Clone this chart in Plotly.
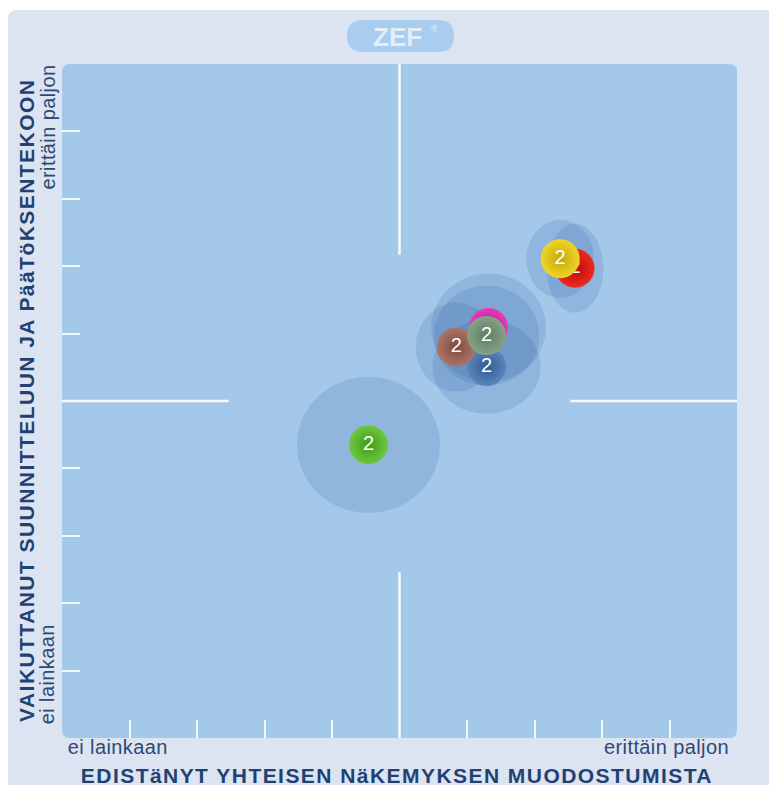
import plotly.graph_objects as go

# ---------------- data ----------------
names   = ["red", "yellow", "magenta", "blue", "brown", "gray", "green"]
x_vals  = [7.60, 7.38, 6.32, 6.29, 5.84, 6.29, 4.54]
y_vals  = [6.97, 7.11, 6.09, 5.51, 5.80, 5.97, 4.35]
sd_x    = [0.42, 0.50, 0.85, 0.80, 0.60, 0.78, 1.06]
sd_y    = [0.66, 0.58, 0.80, 0.70, 0.66, 0.74, 1.01]
counts  = ["2", "2", "2", "2", "2", "2", "2"]
colors  = ["#f02a1c", "#eed52a", "#e83cbc", "#5a86bc", "#ab7466", "#86a286", "#6ec83c"]
edges   = ["#b80a06", "#c4a808", "#b01488", "#2f5a92", "#7e4a3e", "#5c7c5e", "#3f9a1c"]

tick_vals = [1, 2, 3, 4, 6, 7, 8, 9]
x_title = "EDISTäNYT YHTEISEN NäKEMYKSEN MUODOSTUMISTA"
y_title = "VAIKUTTANUT SUUNNITTELUUN JA PääTöKSENTEKOON"
low_label = "ei lainkaan"
high_label = "erittäin paljon"

# ---------------- geometry (page px; figure sits at 8,8 due to body margin) ----------------
OX, OY = 8, 8
W, H = 777 - OX, 785 - OY
L, R, T, B = 62, 737, 64, 738          # plot area in page px
PW, PH = R - L, B - T


def px(xp):
    return (xp - L) / PW


def py(yp):
    return (B - yp) / PH


def rounded_path(x0, y0, x1, y1, r, corners=(True, True, True, True)):
    tl, tr, br, bl = corners
    rx, ry = r / PW, r / PH
    X0, X1 = px(x0), px(x1)
    Y0, Y1 = py(y0), py(y1)
    p = [f"M {X0 + (rx if tl else 0)},{Y0}", f"L {X1 - (rx if tr else 0)},{Y0}"]
    if tr:
        p.append(f"Q {X1},{Y0} {X1},{Y0 - ry}")
    p.append(f"L {X1},{Y1 + (ry if br else 0)}")
    if br:
        p.append(f"Q {X1},{Y1} {X1 - rx},{Y1}")
    p.append(f"L {X0 + (rx if bl else 0)},{Y1}")
    if bl:
        p.append(f"Q {X0},{Y1} {X0},{Y1 + ry}")
    p.append(f"L {X0},{Y0 - (ry if tl else 0)}")
    if tl:
        p.append(f"Q {X0},{Y0} {X0 + rx},{Y0}")
    p.append("Z")
    return " ".join(p)


fig = go.Figure()

shapes = []
shapes.append(dict(type="path", xref="paper", yref="paper",
                   path=rounded_path(8, 10, 776, 800, 9, (True, True, False, False)),
                   fillcolor="#dce3f1", line=dict(width=0), layer="below"))
shapes.append(dict(type="path", xref="paper", yref="paper",
                   path=rounded_path(L, T, R, B, 8),
                   fillcolor="#a4c8e9", line=dict(width=0), layer="below"))
shapes.append(dict(type="path", xref="paper", yref="paper",
                   path=rounded_path(347, 20, 454, 52, 16),
                   fillcolor="#a9cdee", line=dict(width=0), layer="below"))

cx, cy = 5, 5
line_style = dict(color="rgba(255,255,255,0.9)", width=2.5)
shapes += [
    dict(type="line", xref="x", yref="y", x0=cx, x1=cx, y0=10, y1=7.17, line=line_style, layer="below"),
    dict(type="line", xref="x", yref="y", x0=cx, x1=cx, y0=2.46, y1=0, line=line_style, layer="below"),
    dict(type="line", xref="x", yref="y", x0=0, x1=2.47, y0=cy, y1=cy, line=line_style, layer="below"),
    dict(type="line", xref="x", yref="y", x0=7.53, x1=10, y0=cy, y1=cy, line=line_style, layer="below"),
]

for xv, yv, sx, sy in zip(x_vals, y_vals, sd_x, sd_y):
    shapes.append(dict(type="circle", xref="x", yref="y",
                       x0=xv - sx, x1=xv + sx, y0=yv - sy, y1=yv + sy,
                       fillcolor="rgba(45,95,165,0.17)", line=dict(width=0),
                       layer="below"))

for n, xv, yv, c, e, t in zip(names, x_vals, y_vals, colors, edges, counts):
    fig.add_trace(go.Scatter(
        x=[xv], y=[yv], mode="markers+text", name=n,
        text=[t], textposition="middle center",
        textfont=dict(family="Liberation Sans, Arial, sans-serif", size=20, color="white"),
        marker=dict(size=39, color=c, line=dict(width=0),
                    gradient=dict(type="radial", color=e)),
        hoverinfo="skip", showlegend=False,
    ))

label_font = dict(family="Liberation Sans, Arial, sans-serif", size=20, color="#2d4a76")
title_font = dict(family="Liberation Sans, Arial, sans-serif", size=21, color="#1f4272")

annotations = [
    dict(text="<b>ZEF</b>", xref="paper", yref="paper", x=px(397), y=py(37),
         showarrow=False, xanchor="center", yanchor="middle",
         font=dict(family="Liberation Sans, Arial, sans-serif", size=26, color="#e4eef9")),
    dict(text="®", xref="paper", yref="paper", x=px(434), y=py(29),
         showarrow=False, xanchor="center", yanchor="middle",
         font=dict(family="Liberation Sans, Arial, sans-serif", size=9, color="#e4eef9")),
    dict(text=f"<b>{x_title}</b>", xref="paper", yref="paper", x=px(397), y=py(775),
         showarrow=False, xanchor="center", yanchor="middle", font=title_font),
    dict(text=f"<b>{y_title}</b>", xref="paper", yref="paper", x=px(26), y=py(401),
         showarrow=False, xanchor="center", yanchor="middle", textangle=-90, font=title_font),
    dict(text=low_label, xref="paper", yref="paper", x=px(68), y=py(747),
         showarrow=False, xanchor="left", yanchor="middle", font=label_font),
    dict(text=high_label, xref="paper", yref="paper", x=px(728), y=py(747),
         showarrow=False, xanchor="right", yanchor="middle", font=label_font),
    dict(text=high_label, xref="paper", yref="paper", x=px(47), y=py(66),
         showarrow=False, xanchor="center", yanchor="top", textangle=-90, font=label_font),
    dict(text=low_label, xref="paper", yref="paper", x=px(47), y=py(724),
         showarrow=False, xanchor="center", yanchor="bottom", textangle=-90, font=label_font),
]

axis_common = dict(range=[0, 10], showgrid=False, zeroline=False, showline=False,
                   showticklabels=False, ticks="inside", ticklen=18, tickwidth=2,
                   tickcolor="rgba(255,255,255,0.85)", tickvals=tick_vals, fixedrange=True)

fig.update_layout(
    width=W, height=H,
    margin=dict(l=L - OX, r=777 - R, t=T - OY, b=785 - B, pad=0),
    paper_bgcolor="white", plot_bgcolor="rgba(0,0,0,0)",
    xaxis=axis_common, yaxis=axis_common,
    shapes=shapes, annotations=annotations,
    showlegend=False,
)

post = """
document.documentElement.style.overflow = 'hidden';
document.querySelectorAll('.annotation-text').forEach(function(t){
  var s = t.textContent;
  if (s.indexOf('EDIST') === 0 || s.indexOf('VAIKU') === 0) { t.style.letterSpacing = '1.45px'; }
  else if (s.indexOf('ei ') === 0 || s.indexOf('eritt') === 0) { t.style.letterSpacing = '0.4px'; }
});
"""

fig.write_html("out.html", post_script=post, config={"displayModeBar": False})
